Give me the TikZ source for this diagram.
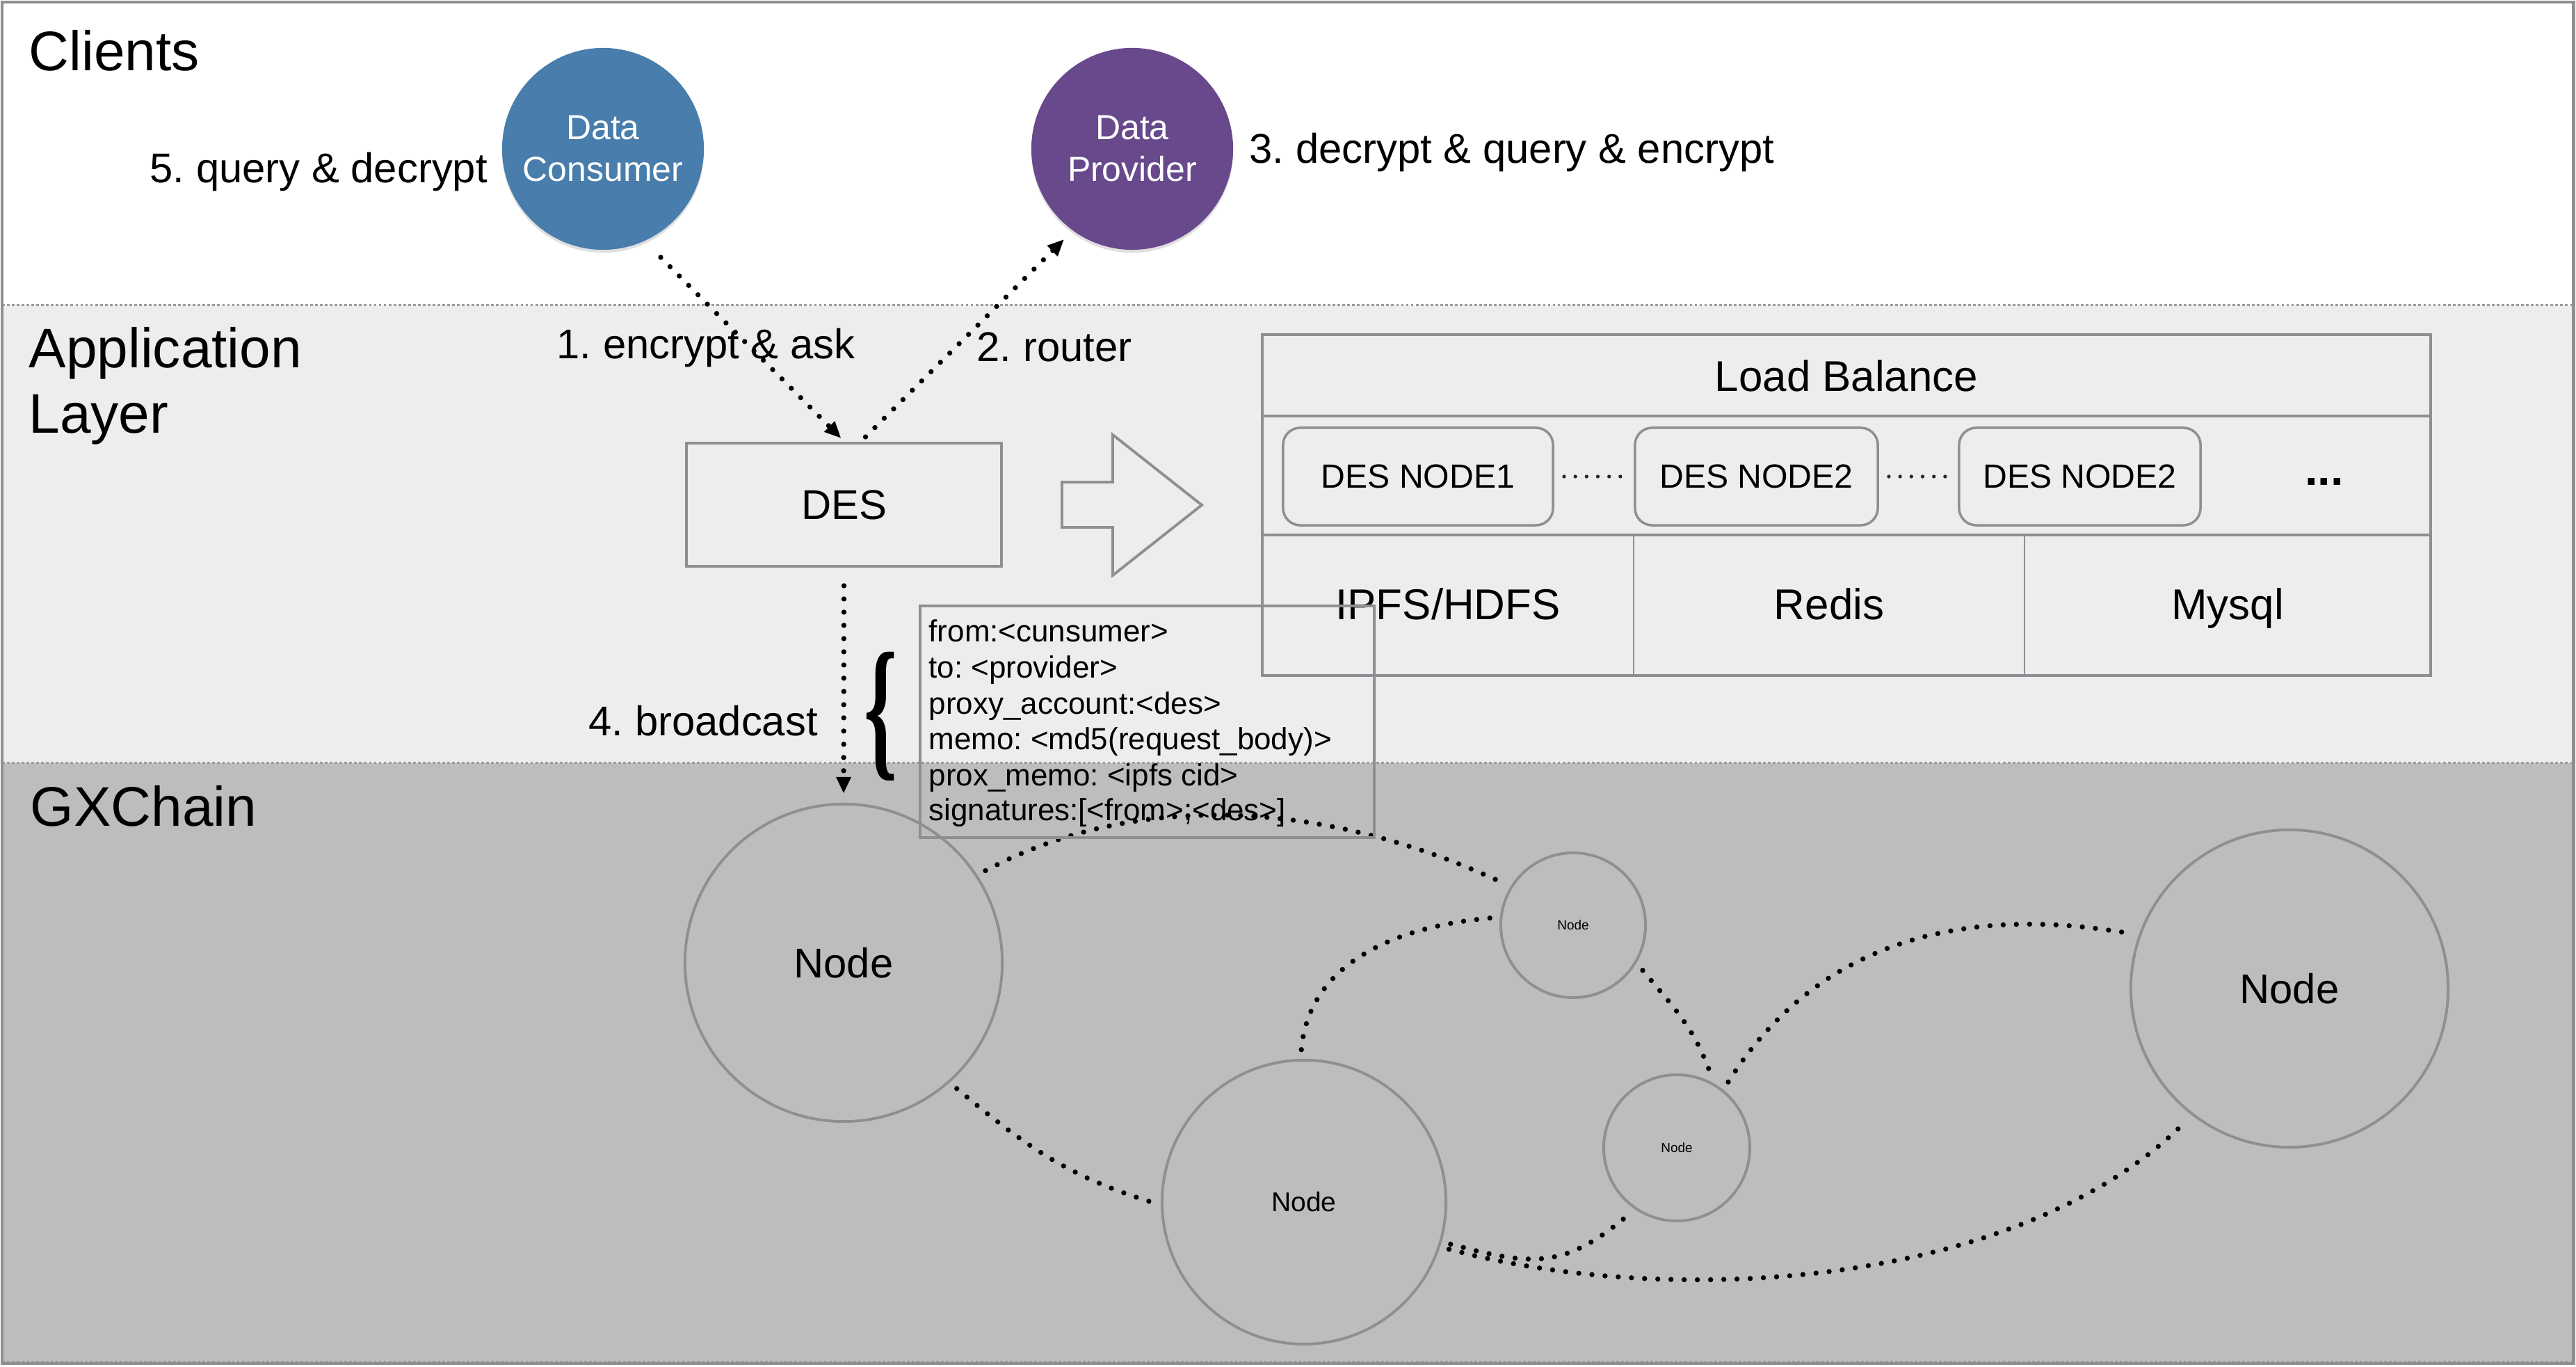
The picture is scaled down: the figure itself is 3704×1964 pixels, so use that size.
\documentclass[tikz,border=0pt]{standalone}
\usepackage{fontspec}
\setmainfont{Liberation Sans}
\newfontfamily\bracefont{Liberation Serif}
\usepackage{graphicx}
\usetikzlibrary{arrows.meta,calc,shadows}
\definecolor{consblue}{HTML}{487DAC}
\definecolor{provpurple}{HTML}{68498C}
\definecolor{appbg}{HTML}{EDEDED}
\definecolor{gxbg}{HTML}{BDBDBD}
\definecolor{linegray}{HTML}{8E8E93}
\definecolor{sepgray}{HTML}{9C9C9C}
\newcommand{\myfs}[2]{\fontsize{#1}{#2}\selectfont}
\frenchspacing
\begin{document}
\frenchspacing
\begin{tikzpicture}[x=0.01cm,y=0.01cm,
  layertitle/.style={anchor=base west, inner sep=0pt, font=\myfs{22.8pt}{27pt}},
  lbl/.style={anchor=base west, inner sep=0pt, font=\myfs{17pt}{20pt}},
  datacirc/.style={circle, minimum size=2.9cm, inner sep=0pt, text=white, align=center,
    font=\myfs{14.2pt}{17.1pt}, drop shadow={shadow xshift=0pt, shadow yshift=-1.2pt, opacity=0.25}},
  desbox/.style={draw=linegray, line width=1.1pt, fill=appbg, minimum width=4.53cm,
    minimum height=1.77cm, font=\myfs{17pt}{20pt}},
  nodebox/.style={draw=linegray, line width=1pt, rounded corners=7pt, minimum height=1.40cm,
    font=\myfs{13.7pt}{16pt}, inner sep=0pt},
  celltext/.style={anchor=base, font=\myfs{17.6pt}{21pt}, inner sep=0pt},
  gxnode/.style={circle, draw=linegray, line width=1.1pt, inner sep=0pt, outer sep=4.3pt},
  dotline/.style={line width=2.1pt, line cap=round, dash pattern=on 0pt off 5.4pt},
  dotarrow/.style={dotline, -{Triangle[length=6.8pt,width=5.7pt]}},
  smalldots/.style={line width=1.5pt, line cap=round, dash pattern=on 0pt off 4.6pt, draw=black!85},
  bandsep/.style={draw=sepgray, line width=0.85pt, dash pattern=on 1.1pt off 0.9pt},
  memotext/.style={anchor=base west, inner sep=0pt, font=\myfs{12.5pt}{14.6pt}},
  panelline/.style={draw=linegray, line width=1.1pt},
  thinline/.style={draw=linegray, line width=0.7pt},
]
\useasboundingbox (0,0) rectangle (3704,1964);
% bands
\fill[white] (0,0) rectangle (3704,1964);
\fill[appbg] (3,867) rectangle (3700,1525);
\fill[gxbg] (3,4) rectangle (3700,867);
\draw[bandsep] (3,1525) -- (3700,1525);
\draw[bandsep] (3,867) -- (3700,867);
\draw[bandsep] (3,7) -- (3700,7);
\draw[linegray, line width=1.4pt] (3,4) rectangle (3700,1961);

% layer titles
\node[layertitle] (tclients) at (41,1862) {Clients};
\node[layertitle] (tapp1) at (41,1435) {Application};
\node[layertitle] (tapp2) at (41,1341) {Layer};
\node[layertitle] (tgx) at (43,776) {GXChain};

% clients
\node[datacirc, fill=consblue] (cons) at (867,1750) {Data\\Consumer};
\node[datacirc, fill=provpurple] (prov) at (1628,1750) {Data\\Provider};
\node[lbl] (l5) at (215,1701) {5. query \& decrypt};
\node[lbl] (l3) at (1796,1729) {3. decrypt \& query \& encrypt};

% application layer
\node[desbox] (des) at (1213.5,1238.5) {DES};
\node[lbl] (l1) at (800,1448) {1. encrypt \& ask};
\node[lbl] (l2) at (1404,1444) {2. router};
\node[lbl] (l4) at (846,906) {4. broadcast};

\draw[linegray, line width=1.1pt, fill=appbg] (1527,1271) -- (1600,1271) -- (1600,1339)
  -- (1728,1238) -- (1600,1137) -- (1600,1206) -- (1527,1206) -- cycle;

% panel
\draw[panelline] (1815,993) rectangle (3495,1483);
\draw[panelline] (1815,1366) -- (3495,1366);
\draw[panelline] (1815,1195) -- (3495,1195);
\draw[thinline] (2349,993) -- (2349,1195);
\draw[thinline] (2911,993) -- (2911,1195);
\node[celltext] (lb) at (2655,1401) {Load Balance};
\node[nodebox, minimum width=3.88cm] (dn1) at (2039,1279) {DES NODE1};
\node[nodebox, minimum width=3.49cm] (dn2) at (2525.5,1279) {DES NODE2};
\node[nodebox, minimum width=3.47cm] (dn3) at (2990.5,1279) {DES NODE2};
\draw[smalldots, shorten <=4pt, shorten >=1.5pt] (dn1.east) -- (dn2.west);
\draw[smalldots, shorten <=4pt, shorten >=1.5pt] (dn2.east) -- (dn3.west);
\node[anchor=base, inner sep=0pt, font=\myfs{19pt}{22pt}\bfseries] (more) at (3342,1266) {...};
\node[celltext] (ipfs) at (2082,1073) {IPFS/HDFS};
\node[celltext] (redis) at (2630,1073) {Redis};
\node[celltext] (mysql) at (3203,1073) {Mysql};

% GXChain nodes
\node[gxnode, minimum size=4.56cm, font=\myfs{17pt}{20pt}] (n1) at (1213,580) {Node};
\node[gxnode, minimum size=2.08cm, font=\myfs{5.4pt}{6.5pt}] (sa) at (2262,634) {Node};
\node[gxnode, minimum size=4.08cm, font=\myfs{11.1pt}{13pt}] (n2) at (1875,236) {Node};
\node[gxnode, minimum size=2.10cm, font=\myfs{5.4pt}{6.5pt}] (sb) at (2411,314) {Node};
\node[gxnode, minimum size=4.56cm, font=\myfs{17pt}{20pt}] (n3) at (3292,543) {Node};

\draw[dotline] (n1.33) to[out=28,in=155,looseness=0.9] (sa.149);
\draw[dotline] (n1.-48) to[out=-40,in=163] (n2.180);
\draw[dotline] (n2.91) to[out=85,in=185] (sa.175);
\draw[dotline] (sa.-33) to[out=-50,in=110] (sb.67);
\draw[dotline] (sb.52) to[out=58,in=170] (n3.161);
\draw[dotline] (n2.-16) to[out=-15,in=-140,looseness=1.2] (sb.-126);
\draw[dotline] (n2.-18) to[out=-15,in=-135,looseness=0.8] (n3.-128);

% arrows
\coordinate (a1s) at ($(cons.center)+(83,-156)$);
\coordinate (a1e) at ($(des.north)+(-4,5)$);
\draw[dotarrow] (a1s) -- (a1e);
\coordinate (a2s) at ($(des.north)+(31,7)$);
\coordinate (a2e) at ($(prov.center)+(-98,-130)$);
\draw[dotarrow] (a2s) -- (a2e);
\coordinate (a4s) at ($(des.south)+(0,-26)$);
\draw[dotarrow] (a4s) -- (n1.north);

% memo
\node[draw=linegray, line width=1.1pt, minimum width=6.53cm, minimum height=3.33cm, inner sep=0pt] (memo) at (1649.5,926.5) {};
\node[memotext] (m1) at (1335,1041) {from:<cunsumer>};
\node[memotext] (m2) at (1335,989) {to: <provider>};
\node[memotext] (m3) at (1335,937) {proxy\_account:<des>};
\node[memotext] (m4) at (1335,886) {memo: <md5(request\_body)>};
\node[memotext] (m5) at (1335,834) {prox\_memo: <ipfs cid>};
\node[memotext] (m6) at (1335,784) {signatures:[<from>;<des>]};
\node[inner sep=0pt] (brace) at (1266,934) {\resizebox*{0.48cm}{1.85cm}{\bracefont\bfseries\{}};
\end{tikzpicture}
\end{document}
